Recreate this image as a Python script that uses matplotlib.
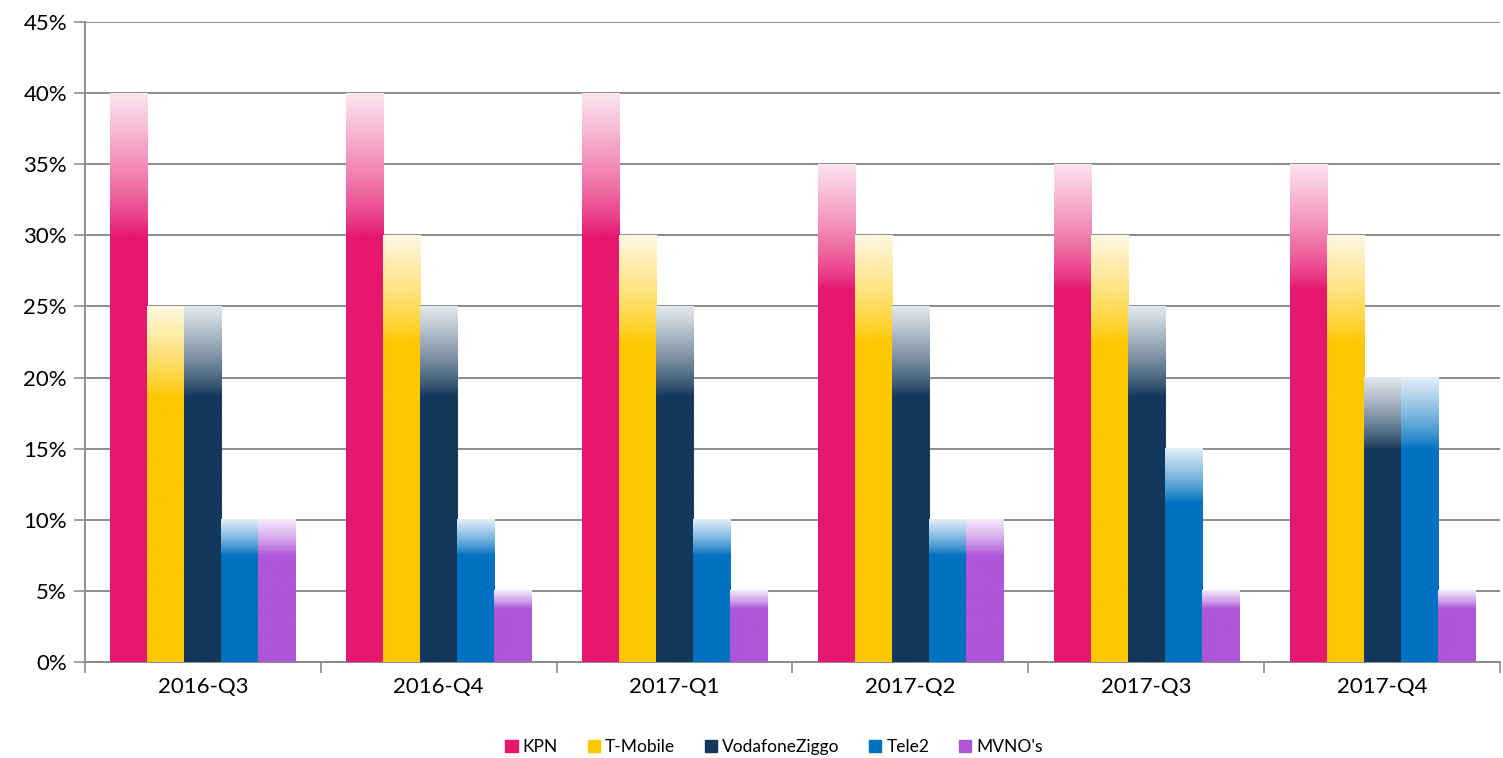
import numpy as np
import matplotlib
matplotlib.use("Agg")
import matplotlib.pyplot as plt
from matplotlib.colors import to_rgb
from matplotlib.patches import Rectangle

plt.rcParams['font.family'] = ['Lato', 'DejaVu Sans']

quarters = ["2016-Q3", "2016-Q4", "2017-Q1", "2017-Q2", "2017-Q3", "2017-Q4"]
kpn = [40, 40, 40, 35, 35, 35]
tmobile = [25, 30, 30, 30, 30, 30]
vodafone = [25, 25, 25, 25, 25, 20]
tele2 = [10, 10, 10, 10, 15, 20]
mvno = [10, 5, 5, 10, 5, 5]

series_names = ["KPN", "T-Mobile", "VodafoneZiggo", "Tele2", "MVNO's"]
series_vals = [kpn, tmobile, vodafone, tele2, mvno]
colors = ["#E6176F", "#FDC700", "#12385A", "#0071C1", "#AD56D7"]

W, H = 1503, 758
fig = plt.figure(figsize=(W / 100, H / 100), dpi=100)
ax = fig.add_axes([85 / W, 1 - 662 / H, (1500 - 85) / W, (662 - 22) / H])

n = len(series_names)
bw = 0.157
x = np.arange(len(quarters))


def gradient_img(color, frac=0.25, top_mix=0.88, npx=200):
    c = np.array(to_rgb(color))
    t = np.linspace(0, 1, npx)  # 0 bottom, 1 top
    mix = np.clip((t - (1 - frac)) / frac, 0, 1) ** 0.8 * top_mix
    rgb = c[None, :] * (1 - mix[:, None]) + mix[:, None]
    img = rgb[::-1][:, None, :]  # top row first
    return img


for i, (name, vals, col) in enumerate(zip(series_names, series_vals, colors)):
    offs = (i - (n - 1) / 2) * bw
    bars = ax.bar(x + offs, vals, width=bw, color=col, label=name, zorder=2)
    img = gradient_img(col)
    for p in bars:
        x0, y0 = p.get_x(), p.get_y()
        w, h = p.get_width(), p.get_height()
        ax.imshow(img, extent=[x0, x0 + w, y0, y0 + h], aspect='auto',
                  interpolation='bilinear', zorder=3)
        p.set_visible(False)

ax.set_xlim(-0.5, len(quarters) - 0.5)
ax.set_ylim(0, 45)
ax.set_yticks(np.arange(0, 46, 5))
ax.set_yticklabels([f"{v}%" for v in range(0, 46, 5)], fontsize=16)
ax.yaxis.grid(True, color="#8C8C8C", linewidth=1.4, zorder=0)
ax.set_axisbelow(True)

ax.set_xticks(np.arange(-0.5, len(quarters), 1.0))
ax.set_xticklabels([])
ax.set_xticks(x, minor=True)
ax.set_xticklabels(quarters, minor=True, fontsize=16)
ax.tick_params(axis='x', which='minor', length=0, pad=11)
ax.tick_params(axis='x', which='major', length=8, color="#8C8C8C", width=1.2)
ax.tick_params(axis='y', length=8, color="#8C8C8C", width=1.2, pad=5)

for s in ["top", "right"]:
    ax.spines[s].set_visible(False)
for s in ["left", "bottom"]:
    ax.spines[s].set_color("#8C8C8C")
    ax.spines[s].set_linewidth(1.4)

handles = [Rectangle((0, 0), 1, 1, color=c) for c in colors]
fig.legend(handles, series_names, loc="center", bbox_to_anchor=(0.515, 1 - 747 / H),
           ncol=5, frameon=False, fontsize=12.5, handlelength=0.7, handleheight=0.7,
           handletextpad=0.3, columnspacing=1.7)

fig.savefig("out.png", dpi=100)
